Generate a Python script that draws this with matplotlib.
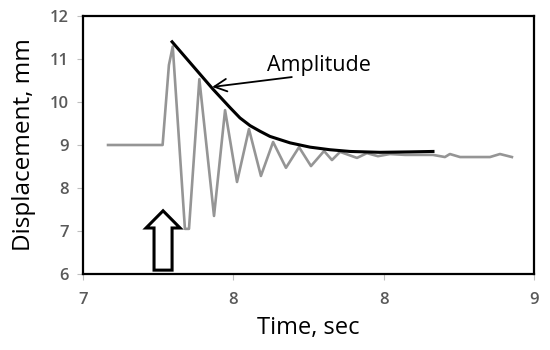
import matplotlib
matplotlib.use("Agg")
import matplotlib.pyplot as plt
from matplotlib.patches import FancyArrow

# Signal (gray) data
time_s = [7.111, 7.353, 7.381, 7.398, 7.452, 7.470, 7.516, 7.581, 7.630, 7.683,
          7.736, 7.789, 7.843, 7.900, 7.958, 8.011, 8.069, 8.104, 8.140, 8.215,
          8.259, 8.308, 8.361, 8.428, 8.494, 8.552, 8.605, 8.627, 8.672, 8.805,
          8.849, 8.902]
displacement_mm = [9.00, 9.00, 10.86, 11.29, 7.05, 7.05, 10.53, 7.35, 9.81, 8.14,
                   9.37, 8.28, 9.07, 8.47, 8.95, 8.51, 8.86, 8.65, 8.84, 8.70,
                   8.81, 8.74, 8.79, 8.77, 8.77, 8.77, 8.72, 8.79, 8.72, 8.72,
                   8.79, 8.72]

# Amplitude envelope (black)
env_time = [7.395, 7.576, 7.652, 7.696, 7.741, 7.785, 7.829, 7.918, 8.007, 8.095,
            8.184, 8.317, 8.450, 8.552]
env_disp = [11.40, 10.30, 9.87, 9.63, 9.45, 9.32, 9.20, 9.05, 8.95, 8.89,
            8.85, 8.83, 8.84, 8.85]

x_ticks = [7, 7 + 2/3, 7 + 4/3, 9]
x_tick_labels = ["7", "8", "8", "9"]
y_ticks = [6, 7, 8, 9, 10, 11, 12]

FONT = "Open Sans"
TICK_COLOR = "#595959"

fig = plt.figure(figsize=(5.5, 3.5), dpi=100)
ax = fig.add_axes([83/550, 1 - 274/350, (534 - 83)/550, (274 - 16)/350])

ax.plot(time_s, displacement_mm, color="#959595", lw=1.9, solid_joinstyle="round", zorder=2)
ax.plot(env_time, env_disp, color="black", lw=2.2, zorder=3)

ax.set_xlim(7, 9)
ax.set_ylim(6, 12)
ax.set_xticks(x_ticks)
ax.set_xticklabels(x_tick_labels)
ax.set_yticks(y_ticks)
ax.set_yticklabels([str(v) for v in y_ticks])

for s in ax.spines.values():
    s.set_color("black")
    s.set_linewidth(1.6)

ax.tick_params(axis="both", direction="out", length=4, width=0.8, color="#BFBFBF",
               labelcolor=TICK_COLOR, labelsize=12)
ax.tick_params(axis="x", pad=9)
ax.tick_params(axis="y", pad=6)
for lab in ax.get_xticklabels() + ax.get_yticklabels():
    lab.set_fontfamily(FONT)
    lab.set_fontweight("semibold")

ax.set_xlabel("Time, sec", fontsize=17, family=FONT, labelpad=6)
ax.set_ylabel("Displacement, mm", fontsize=17.5, family=FONT, labelpad=10)

# Annotation
ax.annotate("", xy=(7.573, 10.35), xytext=(7.926, 10.58),
            arrowprops=dict(arrowstyle="->,head_length=0.9,head_width=0.45",
                            color="black", lw=1.3, shrinkA=0, shrinkB=0))
ax.text(7.816, 10.72, "Amplitude", fontsize=15.5, family=FONT, ha="left", va="baseline")

# Hollow up arrow (excitation)
arr = FancyArrow(7.355, 6.09, 0, 1.38, width=0.08, head_width=0.151, head_length=0.40,
                 length_includes_head=True, fill=False, ec="black", lw=2.2, zorder=4)
ax.add_patch(arr)

fig.savefig("out.png", dpi=100)
